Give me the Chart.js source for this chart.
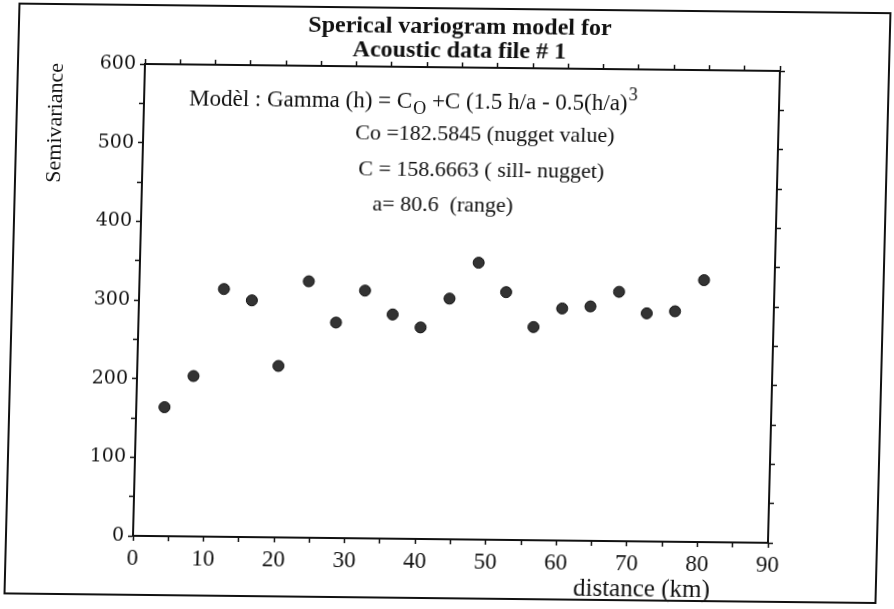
<!DOCTYPE html>
<html>
<head>
<meta charset="utf-8">
<script src="https://cdn.jsdelivr.net/npm/chart.js@4.4.1/dist/chart.umd.min.js"></script>
<style>
  html, body { margin: 0; padding: 0; background: #fff; overflow: hidden; }
  /* the scanned page is slightly skewed */
  #variogram { display: block; transform-origin: 133px 536px; transform: matrix(1, 0.011, -0.0254, 1, 0, 0); }
</style>
</head>
<body>
<canvas id="variogram" width="894" height="609"></canvas>
<script>
var lagDistance = [4, 8, 12, 16, 20, 24, 28, 32, 36, 40, 44, 48, 52, 56, 60, 64, 68, 72, 76, 80];
var semivariance = [164, 204, 315, 301, 218, 326, 274, 315, 285, 269, 306, 352, 315, 271, 295, 298, 317, 290, 293, 333];

var xTickLabels = [0, 10, 20, 30, 40, 50, 60, 70, 80, 90];
var yTickLabels = [0, 100, 200, 300, 400, 500, 600];

var titleLines = ['Sperical variogram model for', 'Acoustic data file # 1'];
var modelLines = ['Co =182.5845 (nugget value)', 'C = 158.6663 ( sill- nugget)', 'a= 80.6  (range)'];

var ink = '#111';
var serif = '"Liberation Serif", "Times New Roman", serif';

// frame of the page, model text and the x axis caption
var pagePlugin = {
  id: 'page',
  afterDraw: function (chart) {
    var ctx = chart.ctx;
    ctx.save();
    ctx.strokeStyle = ink;
    ctx.lineWidth = 2;
    ctx.strokeRect(6, 5, 871, 590);

    ctx.fillStyle = ink;
    ctx.textBaseline = 'middle';
    ctx.textAlign = 'left';

    // Modèl : Gamma (h) = Co +C (1.5 h/a - 0.5(h/a)^3
    var x = 178, y = 99;
    ctx.font = '23px ' + serif;
    var s = 'Modèl : Gamma (h) = C';
    ctx.fillText(s, x, y);
    x += ctx.measureText(s).width;
    ctx.font = '18px ' + serif;
    ctx.fillText('O', x + 1, y + 7);
    x += ctx.measureText('O').width + 1;
    ctx.font = '23px ' + serif;
    s = ' +C (1.5 h/a - 0.5(h/a)';
    ctx.fillText(s, x, y);
    x += ctx.measureText(s).width;
    ctx.font = '18px ' + serif;
    ctx.fillText('3', x + 1, y - 9);

    ctx.font = '22px ' + serif;
    ctx.fillText(modelLines[0], 345, 131);
    ctx.fillText(modelLines[1], 349, 167);
    ctx.fillText(modelLines[2], 364, 202);

    ctx.font = '25px ' + serif;
    ctx.textAlign = 'right';
    ctx.fillText('distance (km)', 711, 584);
    ctx.restore();
  }
};

var ctx = document.getElementById('variogram').getContext('2d');

var axisBorder = { color: ink, width: 2 };
var tickGrid = { drawOnChartArea: false, drawTicks: true, tickLength: 5, color: ink, tickColor: ink, tickWidth: 1.5 };

var variogramChart = new Chart(ctx, {
  type: 'scatter',
  data: {
    datasets: [{
      label: 'Semivariance',
      data: lagDistance.map(function (d, i) { return { x: d, y: semivariance[i] }; }),
      backgroundColor: '#333',
      borderColor: ink,
      borderWidth: 1,
      pointRadius: 5.5,
      pointHoverRadius: 5.5
    }]
  },
  options: {
    responsive: false,
    animation: false,
    layout: { padding: 0 },
    plugins: {
      legend: { display: false },
      tooltip: { enabled: false },
      title: {
        display: true,
        text: titleLines,
        color: ink,
        font: { family: serif, size: 24, weight: 'bold', lineHeight: 1 },
        padding: { top: 11.5, bottom: 0 }
      }
    },
    scales: {
      x: {
        type: 'linear',
        position: 'bottom',
        min: 0,
        max: 90,
        border: axisBorder,
        grid: tickGrid,
        ticks: {
          stepSize: 5,
          autoSkip: false,
          maxRotation: 0,
          padding: 4,
          color: ink,
          font: { family: serif, size: 23 },
          callback: function (v) { return xTickLabels.indexOf(v) >= 0 ? String(v) : ''; }
        },
        afterFit: function (scale) { scale.height = 73; }
      },
      x2: {
        type: 'linear',
        axis: 'x',
        position: 'top',
        min: 0,
        max: 90,
        border: axisBorder,
        grid: tickGrid,
        ticks: { stepSize: 5, display: false },
        afterFit: function (scale) { scale.height = 4.5; }
      },
      y: {
        type: 'linear',
        position: 'left',
        min: 0,
        max: 600,
        border: axisBorder,
        grid: tickGrid,
        title: {
          display: true,
          text: 'Semivariance',
          align: 'end',
          color: ink,
          font: { family: serif, size: 22 },
          padding: { top: 32, bottom: 0 }
        },
        ticks: {
          stepSize: 50,
          autoSkip: false,
          padding: 4,
          color: ink,
          font: { family: '"DejaVu Serif", serif', size: 19 },
          callback: function (v) { return yTickLabels.indexOf(v) >= 0 ? String(v) : ''; }
        },
        afterFit: function (scale) { scale.width = 133; }
      },
      y2: {
        type: 'linear',
        axis: 'y',
        position: 'right',
        min: 0,
        max: 600,
        border: axisBorder,
        grid: tickGrid,
        ticks: { stepSize: 50, display: false },
        afterFit: function (scale) { scale.width = 126; }
      }
    }
  },
  plugins: [pagePlugin]
});
</script>
</body>
</html>
